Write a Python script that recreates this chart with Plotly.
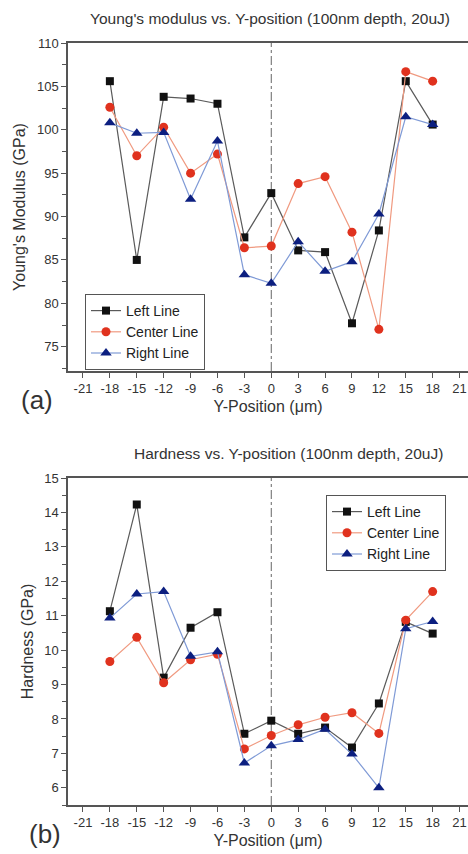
import plotly.graph_objects as go

positions = [-18, -15, -12, -9, -6, -3, 0, 3, 6, 9, 12, 15, 18]

modulus_left = [105.6, 85.0, 103.8, 103.6, 103.0, 87.6, 92.7, 86.1, 85.9, 77.7, 88.4, 105.6, 100.6]
modulus_center = [102.6, 97.0, 100.3, 95.0, 97.2, 86.4, 86.6, 93.8, 94.6, 88.2, 77.0, 106.7, 105.6]
modulus_right = [100.8, 99.6, 99.7, 92.0, 98.7, 83.3, 82.3, 87.1, 83.7, 84.8, 90.3, 101.5, 100.6]

hardness_left = [11.13, 14.23, 9.2, 10.65, 11.1, 7.57, 7.95, 7.57, 7.75, 7.17, 8.45, 10.82, 10.48]
hardness_center = [9.67, 10.37, 9.05, 9.72, 9.88, 7.13, 7.52, 7.83, 8.05, 8.18, 7.58, 10.87, 11.7]
hardness_right = [10.93, 11.63, 11.7, 9.82, 9.95, 6.72, 7.22, 7.4, 7.7, 6.98, 6.0, 10.62, 10.83]

series_names = ["Left Line", "Center Line", "Right Line"]
x_ticks = [-21, -18, -15, -12, -9, -6, -3, 0, 3, 6, 9, 12, 15, 18, 21]
x_tick_labels = ["-21", "-18", "-15", "-12", "-9", "-6", "-3", "0", "3", "6", "9", "12", "15", "18", "21"]

line_colors = ["#5a5a5a", "#f09a80", "#7f9ad6"]
marker_colors = ["#111111", "#e0321e", "#0c1f80"]
symbols = ["square", "circle", "triangle-up"]
msizes = [8, 9, 10]

FONT = "Liberation Sans, Arial, sans-serif"
TXT = "#333333"

fig = go.Figure()

top_sets = [modulus_left, modulus_center, modulus_right]
bot_sets = [hardness_left, hardness_center, hardness_right]

for i in range(3):
    fig.add_trace(go.Scatter(
        x=positions, y=top_sets[i], name=series_names[i], mode="lines+markers",
        line=dict(color=line_colors[i], width=1.2),
        marker=dict(symbol=symbols[i], color=marker_colors[i], size=msizes[i]),
        xaxis="x", yaxis="y", legend="legend"))
for i in range(3):
    fig.add_trace(go.Scatter(
        x=positions, y=bot_sets[i], name=series_names[i], mode="lines+markers",
        line=dict(color=line_colors[i], width=1.2),
        marker=dict(symbol=symbols[i], color=marker_colors[i], size=msizes[i]),
        xaxis="x2", yaxis="y2", legend="legend2"))

W, H = 468, 854
def px_x(p):
    return p / W
def px_y(p):
    return 1 - p / H

xdom = [px_x(68), 1.0]
xrange_ = [-22.67, 21.94]

common_x = dict(
    range=xrange_, tickvals=x_ticks, ticktext=x_tick_labels, ticks="outside", ticklen=5, tickwidth=1.2,
    tickcolor="#555", showline=True, linecolor="#555", linewidth=1.5, mirror=True,
    showgrid=False, zeroline=False, automargin=False,
    tickfont=dict(family=FONT, size=13, color=TXT),
    title=dict(text="Y-Position (\u03bcm)", font=dict(family=FONT, size=16, color=TXT), standoff=5),
)
common_y = dict(
    ticks="outside", ticklen=5, tickwidth=1.2, tickcolor="#555", showline=True,
    linecolor="#555", linewidth=1.5, mirror=False, showgrid=False, zeroline=False,
    automargin=False, tickfont=dict(family=FONT, size=13, color=TXT),
)

fig.update_layout(
    width=W, height=H, margin=dict(l=0, r=0, t=0, b=0, autoexpand=False),
    paper_bgcolor="white", plot_bgcolor="white",
    font=dict(family=FONT, color=TXT),
    xaxis=dict(domain=xdom, anchor="y", **common_x),
    yaxis=dict(domain=[px_y(371), px_y(43)], anchor="x", range=[72.2, 110], dtick=5,
               minor=dict(dtick=2.5, ticks="outside", ticklen=4, tickcolor="#555"),
               title=dict(text="Young's Modulus (GPa)", font=dict(family=FONT, size=16, color=TXT), standoff=7),
               **common_y),
    xaxis2=dict(domain=xdom, anchor="y2", **common_x),
    yaxis2=dict(domain=[px_y(805), px_y(478)], anchor="x2", range=[5.5, 15], dtick=1,
                minor=dict(dtick=0.5, ticks="outside", ticklen=4, tickcolor="#555"),
                title=dict(text="Hardness (GPa)", font=dict(family=FONT, size=16, color=TXT), standoff=7),
                **common_y),
    legend=dict(x=px_x(85), y=px_y(294), xanchor="left", yanchor="top",
                bordercolor="#555", borderwidth=1, bgcolor="white",
                font=dict(family=FONT, size=14, color="#222"),
                tracegroupgap=0, itemwidth=30),
    legend2=dict(x=px_x(326), y=px_y(495), xanchor="left", yanchor="top",
                 bordercolor="#555", borderwidth=1, bgcolor="white",
                 font=dict(family=FONT, size=14, color="#222"),
                 tracegroupgap=0, itemwidth=30),
    showlegend=True,
)

def label(text, x, y, size):
    fig.add_annotation(text=text, xref="paper", yref="paper", x=px_x(x), y=px_y(y),
                       xanchor="center", yanchor="middle", showarrow=False,
                       font=dict(family=FONT, size=size, color=TXT))

label("Young's modulus vs. Y-position (100nm depth, 20uJ)", 270, 18, 15.5)
label("Hardness vs. Y-position (100nm depth, 20uJ)", 288, 453, 15.5)
label("(a)", 37, 400, 26)
label("(b)", 45, 834, 26)

for xr, yr in [("x", "y domain"), ("x2", "y2 domain")]:
    fig.add_shape(type="line", xref=xr, yref=yr, x0=0, x1=0, y0=0, y1=1,
                  line=dict(color="#666", width=1, dash="dashdot"), layer="below")

fig.write_html("out.html", config={"displayModeBar": False},
               post_script="document.body.style.margin='0';document.body.style.padding='0';")
